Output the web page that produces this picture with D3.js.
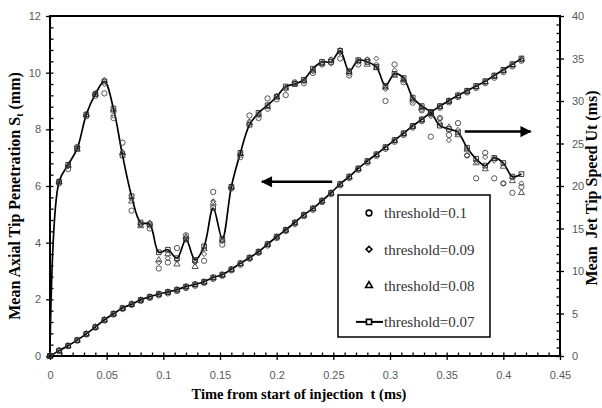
<!DOCTYPE html>
<meta charset="utf-8">
<style>
body { margin: 0; background: #fff; }
.tick text { font-family: "Liberation Sans", Arial, sans-serif; font-size: 11px; fill: #595959; }
.axis-title { font-family: "Liberation Serif", "Times New Roman", serif; font-weight: bold; font-size: 14.5px; fill: #000; }
.ytitle { font-size: 16px; }
.legend text { font-family: "Liberation Serif", "Times New Roman", serif; font-size: 15px; fill: #333; }
</style>
<body>
<svg width="602" height="408"></svg>
<script src="https://cdn.jsdelivr.net/npm/d3@7"></script>
<script>
// time of each frame (ms)
var time = [0, 0.008, 0.016, 0.024, 0.032, 0.04, 0.048, 0.056, 0.064, 0.072,
  0.08, 0.088, 0.096, 0.104, 0.112, 0.12, 0.128, 0.136, 0.144, 0.152,
  0.16, 0.168, 0.176, 0.184, 0.192, 0.2, 0.208, 0.216, 0.224, 0.232,
  0.24, 0.248, 0.256, 0.264, 0.272, 0.28, 0.288, 0.296, 0.304, 0.312,
  0.32, 0.328, 0.336, 0.344, 0.352, 0.36, 0.368, 0.376, 0.384, 0.392,
  0.4, 0.408, 0.416];

// mean axial tip penetration (mm), left axis
var pen07 = [0, 0.19, 0.36, 0.56, 0.78, 1.02, 1.28, 1.49, 1.69, 1.83,
  1.98, 2.09, 2.19, 2.26, 2.34, 2.45, 2.53, 2.62, 2.77, 2.87,
  3.06, 3.27, 3.47, 3.68, 3.95, 4.21, 4.45, 4.71, 4.98, 5.21,
  5.48, 5.76, 6.07, 6.33, 6.62, 6.88, 7.12, 7.37, 7.62, 7.86,
  8.12, 8.35, 8.6, 8.82, 9.01, 9.2, 9.36, 9.53, 9.7, 9.9,
  10.1, 10.3, 10.5];
var pen08 = [0, 0.19, 0.36, 0.55, 0.78, 1.02, 1.27, 1.49, 1.68, 1.83,
  1.97, 2.08, 2.18, 2.25, 2.33, 2.44, 2.52, 2.61, 2.76, 2.86,
  3.05, 3.26, 3.46, 3.67, 3.94, 4.2, 4.44, 4.7, 4.97, 5.2,
  5.47, 5.75, 6.06, 6.32, 6.6, 6.86, 7.1, 7.35, 7.6, 7.84,
  8.1, 8.33, 8.58, 8.8, 8.99, 9.18, 9.34, 9.5, 9.67, 9.87,
  10.07, 10.27, 10.47];
var pen09 = [0, 0.19, 0.35, 0.55, 0.77, 1.01, 1.27, 1.48, 1.68, 1.82,
  1.97, 2.08, 2.17, 2.25, 2.33, 2.43, 2.51, 2.6, 2.75, 2.85,
  3.04, 3.25, 3.45, 3.66, 3.93, 4.19, 4.43, 4.69, 4.96, 5.19,
  5.46, 5.74, 6.05, 6.31, 6.6, 6.85, 7.09, 7.34, 7.59, 7.83,
  8.09, 8.32, 8.57, 8.79, 8.98, 9.17, 9.33, 9.49, 9.66, 9.86,
  10.05, 10.25, 10.45];
var pen10 = [0, 0.18, 0.35, 0.54, 0.76, 1.0, 1.25, 1.46, 1.66, 1.8,
  1.94, 2.05, 2.14, 2.21, 2.29, 2.4, 2.48, 2.58, 2.72, 2.83,
  3.02, 3.22, 3.43, 3.64, 3.9, 4.16, 4.41, 4.66, 4.93, 5.16,
  5.43, 5.71, 6.02, 6.28, 6.57, 6.82, 7.06, 7.31, 7.56, 7.8,
  8.06, 8.29, 8.54, 8.76, 8.95, 9.14, 9.3, 9.46, 9.63, 9.82,
  10.02, 10.22, 10.42];

// mean jet tip speed (m/s), right axis
var spd07 = [0, 20.5, 22.5, 24.4, 28.4, 30.8, 32.3, 29.1, 23.6, 18.8,
  15.7, 15.5, 12.2, 12.5, 11.5, 13.7, 11.3, 12.9, 17.4, 13.8,
  19.9, 23.9, 27.2, 28.6, 29.5, 30.5, 31.7, 32.0, 32.5, 33.8,
  34.6, 34.6, 35.9, 33.5, 34.8, 34.6, 34.0, 31.8, 33.2, 32.7,
  30.4, 29.4, 28.7, 27.1, 26.7, 26.3, 24.5, 23.2, 22.4, 23.3,
  22.7, 21.1, 21.4];
var spd08 = [0, 20.5, 22.4, 24.3, 28.4, 30.8, 32.4, 28.9, 23.9, 18.2,
  15.3, 15.6, 11.3, 12.0, 10.8, 14.0, 10.5, 12.6, 18.0, 13.6,
  19.9, 23.8, 27.4, 28.4, 29.3, 30.5, 31.5, 32.0, 32.4, 33.6,
  34.4, 34.8, 35.9, 33.4, 34.7, 34.3, 33.9, 31.6, 33.0, 32.5,
  30.2, 29.2, 28.5, 27.4, 26.9, 26.0, 24.3, 22.7, 22.0, 23.2,
  22.3, 20.6, 19.2];
var spd09 = [0, 20.5, 22.3, 24.5, 28.3, 30.9, 32.0, 28.3, 24.0, 18.5,
  15.5, 15.3, 11.0, 11.5, 11.3, 13.9, 11.0, 12.0, 18.2, 13.5,
  19.8, 23.6, 27.6, 28.3, 29.0, 30.6, 31.4, 32.1, 32.3, 33.5,
  34.4, 34.4, 35.7, 33.2, 34.6, 34.9, 35.0, 31.4, 33.6, 32.4,
  30.0, 29.0, 28.2, 27.9, 25.4, 26.6, 23.6, 22.9, 23.4, 23.0,
  20.3, 21.0, 20.3];
var spd10 = [0, 20.3, 22.0, 24.6, 28.2, 30.6, 30.9, 28.0, 25.1, 17.1,
  15.5, 15.0, 10.3, 11.0, 12.7, 14.2, 11.2, 11.2, 19.3, 13.1,
  19.7, 23.4, 28.3, 28.0, 30.3, 30.2, 30.7, 32.2, 32.1, 33.3,
  34.3, 34.8, 35.0, 33.0, 34.3, 34.8, 34.2, 30.0, 34.3, 32.2,
  29.8, 28.9, 25.8, 28.0, 26.0, 27.4, 23.6, 20.9, 23.9, 20.9,
  20.3, 19.2, 19.9];

var thresholds = ["threshold=0.1", "threshold=0.09", "threshold=0.08", "threshold=0.07"];
var xTicks = [0, 0.05, 0.1, 0.15, 0.2, 0.25, 0.3, 0.35, 0.4, 0.45];
var leftTicks = [0, 2, 4, 6, 8, 10, 12];
var rightTicks = [0, 5, 10, 15, 20, 25, 30, 35, 40];
// arrows: [t from, t to, value on left axis]
var arrowLeft = [0.249, 0.187, 6.15];
var arrowRight = [0.366, 0.424, 7.92];

var svg = d3.select("svg"),
    pLeft = 50, pRight = 560, pTop = 16, pBottom = 356;

svg.append("rect").attr("width", 602).attr("height", 408).attr("fill", "#fff");

var x = d3.scaleLinear().domain([0, 0.45]).range([pLeft, pRight]);
var yL = d3.scaleLinear().domain([0, 12]).range([pBottom, pTop]);
var yR = d3.scaleLinear().domain([0, 40]).range([pBottom, pTop]);

// minor tick values
var xMinor = d3.range(0, 46).map(function(i) { return i / 100; });
var lMinor = d3.range(0, 31).map(function(i) { return i * 0.4; });
var rMinor = d3.range(0, 41);

function inner(g, axis) {
  g.call(axis);
  g.select(".domain").remove();
  g.selectAll("text").remove();
  g.selectAll("line").attr("stroke", "#000").attr("stroke-width", 1.3);
}

// minor + major inward ticks
svg.append("g").attr("transform", "translate(0," + pBottom + ")")
  .call(inner, d3.axisBottom(x).tickValues(xMinor).tickSize(-3.5));
svg.append("g").attr("transform", "translate(" + pLeft + ",0)")
  .call(inner, d3.axisLeft(yL).tickValues(lMinor).tickSize(-3.5));
svg.append("g").attr("transform", "translate(" + pRight + ",0)")
  .call(inner, d3.axisRight(yR).tickValues(rMinor).tickSize(-3.5));

function outer(g, axis) {
  g.call(axis);
  g.select(".domain").remove();
  g.selectAll("line").attr("stroke", "#000").attr("stroke-width", 1.3);
}

svg.append("g").attr("transform", "translate(0," + pBottom + ")")
  .call(outer, d3.axisBottom(x).tickValues(xTicks).tickSize(4).tickPadding(11)
    .tickFormat(function(d) { return String(+d.toFixed(2)); }));
svg.append("g").attr("transform", "translate(" + pLeft + ",0)")
  .call(outer, d3.axisLeft(yL).tickValues(leftTicks).tickSize(4).tickPadding(5));
svg.append("g").attr("transform", "translate(" + pRight + ",0)")
  .call(outer, d3.axisRight(yR).tickValues(rightTicks).tickSize(4).tickPadding(8));

svg.append("rect")
  .attr("x", pLeft).attr("y", pTop)
  .attr("width", pRight - pLeft).attr("height", pBottom - pTop)
  .attr("fill", "none").attr("stroke", "#000").attr("stroke-width", 2);

// series: circle, diamond (rotated square), triangle, square
var symbols = [d3.symbolCircle, d3.symbolSquare, d3.symbolTriangle, d3.symbolSquare];
var rotations = [0, 45, 0, 0];
var sizes = [22, 13, 16, 22];
var penSets = [pen10, pen09, pen08, pen07];
var spdSets = [spd10, spd09, spd08, spd07];

var lineL = d3.line().x(function(d, i) { return x(time[i]); }).y(function(d) { return yL(d); })
  .curve(d3.curveCatmullRom);
var lineR = d3.line().x(function(d, i) { return x(time[i]); }).y(function(d) { return yR(d); })
  .curve(d3.curveCatmullRom);

var plot = svg.append("g");
plot.append("path").datum(pen07).attr("d", lineL)
  .attr("fill", "none").attr("stroke", "#000").attr("stroke-width", 1.7);
plot.append("path").datum(spd07).attr("d", lineR)
  .attr("fill", "none").attr("stroke", "#000").attr("stroke-width", 1.7);

thresholds.forEach(function(name, k) {
  var sym = d3.symbol().type(symbols[k]).size(sizes[k]);
  var g = plot.append("g").attr("fill", "none").attr("stroke", k == 3 ? "#222" : "#444")
    .attr("stroke-width", 0.9);
  g.selectAll(".p").data(penSets[k]).enter().append("path")
    .attr("d", sym)
    .attr("transform", function(d, i) {
      return "translate(" + x(time[i]) + "," + yL(d) + ") rotate(" + rotations[k] + ")"; });
  g.selectAll(".s").data(spdSets[k]).enter().append("path")
    .attr("d", sym)
    .attr("transform", function(d, i) {
      return "translate(" + x(time[i]) + "," + yR(d) + ") rotate(" + rotations[k] + ")"; });
});

// arrows
var defs = svg.append("defs");
defs.append("marker").attr("id", "head")
  .attr("viewBox", "0 0 10 10").attr("refX", 9).attr("refY", 5)
  .attr("markerWidth", 6).attr("markerHeight", 4.5).attr("orient", "auto")
  .append("path").attr("d", "M0,0L10,5L0,10Z").attr("fill", "#000");
[arrowLeft, arrowRight].forEach(function(a) {
  svg.append("line")
    .attr("x1", x(a[0])).attr("x2", x(a[1]))
    .attr("y1", yL(a[2])).attr("y2", yL(a[2]))
    .attr("stroke", "#000").attr("stroke-width", 2.5)
    .attr("marker-end", "url(#head)");
});

// legend
var legend = svg.append("g").attr("class", "legend");
legend.append("rect").attr("x", 338).attr("y", 195).attr("width", 152).attr("height", 142)
  .attr("fill", "#fff").attr("stroke", "#000").attr("stroke-width", 1.5);
thresholds.forEach(function(name, k) {
  var cy = 213 + k * 36.3;
  if (k == 3) {
    legend.append("line").attr("x1", 356).attr("x2", 383).attr("y1", cy).attr("y2", cy)
      .attr("stroke", "#000").attr("stroke-width", 2);
  }
  legend.append("path").attr("d", d3.symbol().type(symbols[k]).size(sizes[k] + 4))
    .attr("transform", "translate(369," + cy + ") rotate(" + rotations[k] + ")")
    .attr("fill", k == 3 ? "#fff" : "none").attr("stroke", "#000").attr("stroke-width", 1.6);
  legend.append("text").attr("x", 384).attr("y", cy).attr("dy", "0.35em").text(name);
});

// axis titles
svg.append("text").attr("class", "axis-title")
  .attr("x", 299).attr("y", 399).attr("text-anchor", "middle")
  .attr("xml:space", "preserve")
  .text("Time from start of injection  t (ms)");

var lt = svg.append("text").attr("class", "axis-title ytitle")
  .attr("transform", "translate(20,196) rotate(-90)").attr("text-anchor", "middle");
lt.append("tspan").text("Mean Axial Tip Penetration S");
lt.append("tspan").attr("font-size", "10px").attr("dy", 3).text("t");
lt.append("tspan").attr("dy", -3).text(" (mm)");

svg.append("text").attr("class", "axis-title ytitle")
  .attr("transform", "translate(597,188) rotate(-90)").attr("text-anchor", "middle")
  .attr("xml:space", "preserve")
  .text("Mean  Jet Tip Speed Ut (ms)");
</script>
</body>
